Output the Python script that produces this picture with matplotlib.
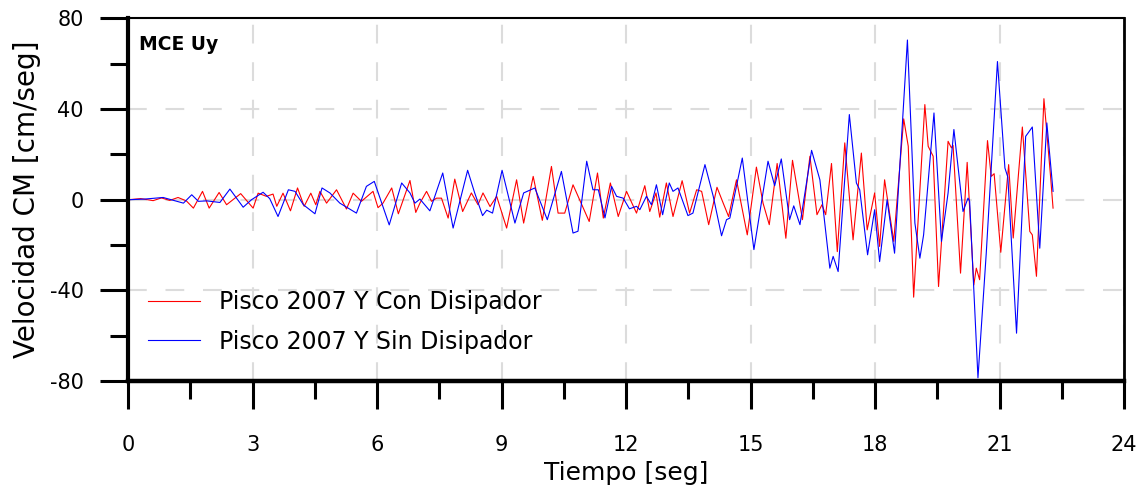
import numpy as np
import matplotlib
matplotlib.use("Agg")
import matplotlib.pyplot as plt
from matplotlib.ticker import MultipleLocator

plt.rcParams['font.family'] = ['DejaVu Sans']
plt.rcParams['axes.unicode_minus'] = False

# Pisco 2007 Y - con disipador (tiempo [seg], velocidad [cm/seg])
t_con = [0.0, 0.3, 0.6, 0.8, 1.0, 1.2, 1.4, 1.57, 1.79, 1.95, 2.19, 2.37, 2.71, 3.01, 3.13,
         3.33, 3.49, 3.58, 3.73, 3.91, 4.08, 4.24, 4.40, 4.52, 4.62, 4.78, 5.02, 5.26, 5.42,
         5.62, 5.90, 6.02, 6.14, 6.35, 6.51, 6.79, 6.93, 7.03, 7.19, 7.31, 7.43, 7.55, 7.71,
         7.87, 8.06, 8.27, 8.43, 8.55, 8.72, 8.88, 9.12, 9.36, 9.53, 9.76, 9.98, 10.20, 10.36,
         10.52, 10.72, 11.11, 11.31, 11.45, 11.62, 11.81, 12.01, 12.25, 12.45, 12.57, 12.72,
         12.81, 12.97, 13.13, 13.35, 13.53, 13.70, 13.82, 13.99, 14.19, 14.34, 14.47, 14.66,
         14.92, 15.14, 15.30, 15.45, 15.64, 15.85, 16.01, 16.25, 16.43, 16.60, 16.72, 16.81,
         16.95, 17.09, 17.27, 17.47, 17.67, 17.81, 17.99, 18.11, 18.23, 18.45, 18.69, 18.80,
         18.93, 19.20, 19.28, 19.40, 19.53, 19.76, 19.84, 19.88, 20.06, 20.22, 20.38, 20.44,
         20.52, 20.71, 20.80, 20.87, 21.03, 21.22, 21.33, 21.55, 21.73, 21.79, 21.89, 22.07,
         22.23, 22.29]
v_con = [0.0, 0.5, -0.4, 0.8, -0.3, 1.0, -0.5, -3.7, 3.7, -3.7, 3.2, -2.2, 2.7, -3.7, 2.9,
         1.5, 2.5, -2.9, 2.9, -4.9, 5.2, -2.9, 2.9, -2.2, 3.7, -1.5, 4.4, -4.1, 2.9,
         -0.7, 3.7, -3.5, -1.5, 5.2, -6.2, 8.5, -5.6, -1.5, 3.7, -0.7, 0.7, 0.7, -8.1,
         9.1, -5.2, 3.0, -2.2, 3.0, -3.0, 1.5, -12.5, 8.8, -10.3, 10.3, -9.1, 14.7, -5.9,
         -5.9, 6.6, -9.6, 11.8, -8.1, 7.4, -7.4, 3.7, -5.9, 6.2, -5.2, 3.0,
         -7.7, 7.4, -7.4, 8.4, -5.9, 4.4, 3.7, -11.0, 5.5, -1.5, -7.4, 8.8,
         -15.5, 14.4, -1.5, -11.0, 16.0, -17.0, 17.4, -8.8, 19.2, -6.6, -2.2, -6.6,
         16.0, -22.9, 25.1, -17.7, 20.6, -13.3, 3.0, -20.6, 8.8, -18.4, 35.7, 23.6,
         -43.0, 42.0, 23.6, 19.2, -38.3, 25.8, 22.9, 24.0, -32.4, 16.5, -37.6, -30.2,
         -35.3, 26.1, 10.3, 11.5, -23.2, 15.5, -16.9, 32.1, -14.0, -15.5, -33.8, 44.6,
         10.3, -3.7]

# Pisco 2007 Y - sin disipador
t_sin = [0.0, 0.4, 0.84, 1.33, 1.53, 1.69, 1.89, 2.21, 2.45, 2.77, 2.97, 3.25, 3.41, 3.61,
         3.86, 4.02, 4.22, 4.50, 4.67, 4.86, 5.10, 5.50, 5.74, 5.93, 6.29, 6.59, 6.79, 6.91,
         7.03, 7.27, 7.58, 7.83, 8.18, 8.35, 8.54, 8.64, 8.78, 9.01, 9.32, 9.53, 9.80, 10.10,
         10.44, 10.72, 10.84, 11.05, 11.20, 11.33, 11.49, 11.65, 11.77, 11.93, 12.08, 12.25,
         12.33, 12.49, 12.61, 12.73, 12.88, 13.04, 13.13, 13.25, 13.49, 13.61, 13.90, 14.10,
         14.30, 14.42, 14.50, 14.80, 15.08, 15.42, 15.58, 15.74, 15.94, 16.04, 16.19, 16.47,
         16.67, 16.91, 16.99, 17.11, 17.38, 17.55, 17.63, 17.82, 17.99, 18.11, 18.29, 18.47,
         18.78, 18.96, 19.08, 19.17, 19.24, 19.42, 19.60, 19.76, 19.90, 20.12, 20.24, 20.28,
         20.48, 20.68, 20.95, 21.13, 21.20, 21.41, 21.63, 21.69, 21.79, 21.97, 22.14, 22.29]
v_sin = [0.0, 0.3, 1.0, -1.5, 2.2, -0.7, -0.5, -1.2, 4.7, -3.3, 0.0, 3.3, 0.5, -7.4,
         4.4, 3.7, -2.2, -6.2, 5.2, 3.0, -1.5, -5.9, 5.9, 8.1, -11.1, 7.4, 3.0, -1.5,
         0.3, -4.9, 11.8, -12.5, 13.0, 3.0, -7.0, -4.6, -5.9, 13.0, -10.3, 3.0, 5.2, -8.8,
         12.5, -14.7, -13.9, 17.0, 4.4, 4.4, -8.0, 5.9, 1.5, 0.7, -4.0, -2.9,
         -4.4, 1.5, -2.2, 6.6, -6.6, 7.4, 3.7, 5.2, -7.0, -5.9, 15.5, 1.5,
         -15.9, -8.8, -8.1, 18.4, -22.0, 17.0, 6.2, 18.0, -8.8, -2.7, -11.0, 21.8,
         8.8, -30.2, -25.0, -31.7, 37.6, 7.4, 4.4, -24.3, -4.4, -27.3, 0.0, -23.6,
         70.5, -10.3, -25.8, -15.5, -0.7, 38.3, -18.4, 3.0, 31.0, -5.2, 0.7, -0.7,
         -78.6, -23.6, 61.0, 14.0, 10.0, -58.9, 28.0, 29.5, 32.1, -21.4, 33.9, 3.7]

x_ticks = [0, 3, 6, 9, 12, 15, 18, 21, 24]
y_ticks = [-80, -40, 0, 40, 80]

fig = plt.figure(figsize=(11.41, 4.93), dpi=100)
ax = fig.add_axes([0.1124, 0.2272, 0.8727, 0.7353])

ax.plot(t_con, v_con, color='#ff0000', linewidth=0.8, label='Pisco 2007 Y Con Disipador')
ax.plot(t_sin, v_sin, color='#0000ff', linewidth=0.8, label='Pisco 2007 Y Sin Disipador')

ax.set_xlim(0, 24)
ax.set_ylim(-80, 80)
ax.set_xticks(x_ticks)
ax.set_yticks(y_ticks)
ax.xaxis.set_minor_locator(MultipleLocator(1.5))
ax.yaxis.set_minor_locator(MultipleLocator(20))

# grid
ax.grid(True, which='major', color='#dcdcdc', linewidth=1.5, linestyle=(0, (9, 9)))
ax.set_axisbelow(True)

# spines
ax.spines['left'].set_linewidth(3)
ax.spines['bottom'].set_linewidth(3.2)
ax.spines['top'].set_linewidth(1.5)
ax.spines['right'].set_linewidth(2)

ax.tick_params(axis='both', which='major', direction='out', length=20, width=2.2,
               labelsize=15, color='black')
ax.tick_params(axis='both', which='minor', direction='out', length=13, width=2.2)
ax.tick_params(axis='x', which='major', pad=19)
ax.tick_params(axis='y', which='major', pad=12)

ax.set_xlabel('Tiempo [seg]', fontsize=18, labelpad=4)
ax.set_ylabel('Velocidad CM [cm/seg]', fontsize=20, labelpad=6)

ax.text(0.011, 0.955, 'MCE Uy', transform=ax.transAxes, fontsize=13.5, fontweight='bold',
        va='top', ha='left')

ax.legend(loc='center left', bbox_to_anchor=(0.0198, 0.1625), frameon=False, fontsize=17,
          handlelength=2.2, handletextpad=0.8, labelspacing=0.65,
          borderaxespad=0, borderpad=0)

fig.savefig('out.png', dpi=100)
